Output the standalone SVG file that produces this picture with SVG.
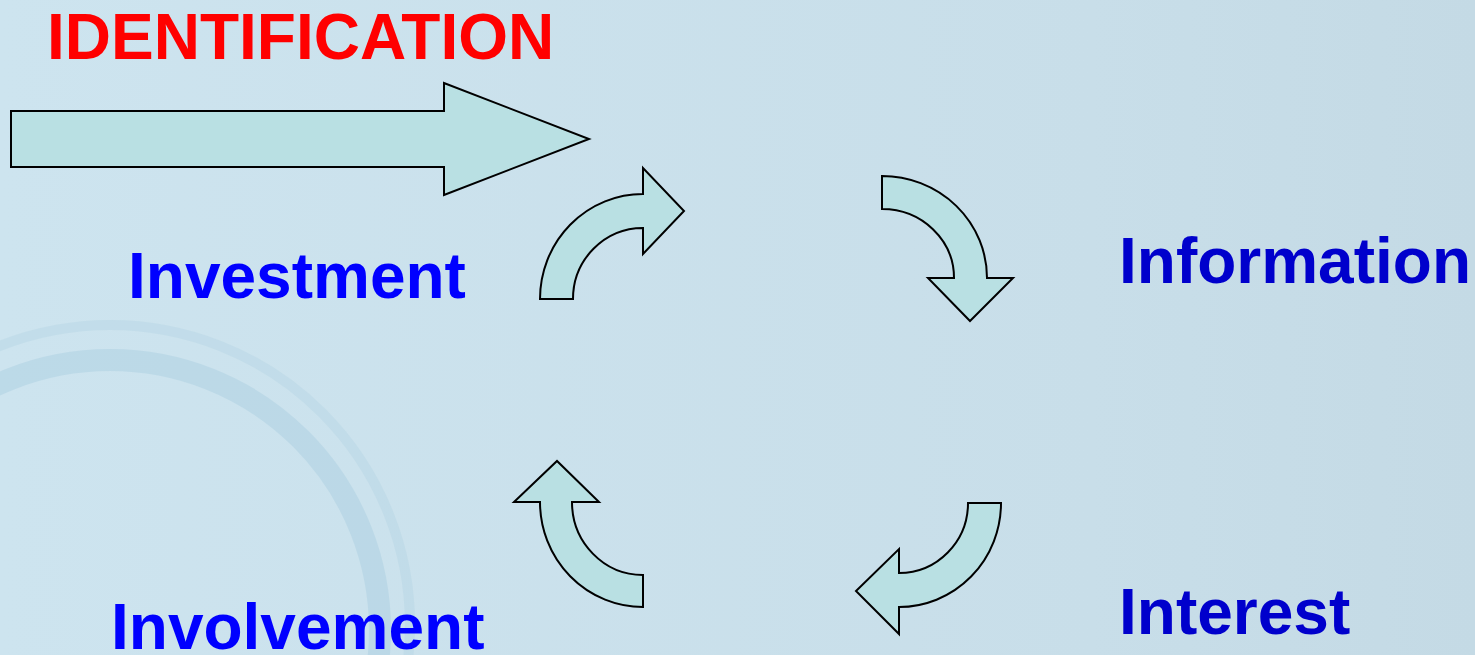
<svg xmlns="http://www.w3.org/2000/svg" width="1475" height="655" viewBox="0 0 1475 655">
  <defs>
    <linearGradient id="bg" x1="0" y1="0" x2="1" y2="0">
      <stop offset="0" stop-color="#cde4ef"/>
      <stop offset="0.74" stop-color="#c8dee9"/>
      <stop offset="1" stop-color="#c4dae5"/>
    </linearGradient>
  </defs>
  <style>
    .arrow { fill: #b9e0e3; stroke: #000; stroke-width: 2; stroke-linejoin: miter; }
    .lbl { font-family: "Liberation Sans", Arial, sans-serif; font-weight: bold; font-size: 64px; }
    .left { fill: #0000ff; }
    .right { fill: #0000cc; }
    .title { fill: #ff0000; }
    .wm { fill: none; stroke: #a8cde0; }
  </style>
  <rect x="0" y="0" width="1475" height="655" fill="url(#bg)"/>
  <g id="watermark" opacity="0.55">
    <circle class="wm" cx="110" cy="625" r="300" stroke-width="10" opacity="0.5"/>
    <circle class="wm" cx="110" cy="630" r="270" stroke-width="22" opacity="0.8"/>
  </g>
  <g id="connectors">
    <polygon id="identification-arrow" class="arrow" points="11,111 444,111 444,83 589,139 444,195 444,167 11,167"/>
    <path id="arrow-investment" class="arrow" d="M540,299 A103,105 0 0 1 643,194 L643,168 L684,211 L643,254 L643,228 A70,71 0 0 0 573,299 Z"/>
    <path id="arrow-information" class="arrow" d="M882,176 A105,102 0 0 1 987,278 L1013,278 L970,321 L928,278 L954,278 A72,69 0 0 0 882,209 Z"/>
    <path id="arrow-interest" class="arrow" d="M1001,503 A102,104 0 0 1 899,607 L899,634 L856,591 L899,549 L899,573 A69,70 0 0 0 968,503 Z"/>
    <path id="arrow-involvement" class="arrow" d="M643,607 A103,105 0 0 1 540,502 L514,502 L557,461 L599,502 L572,502 A71,73 0 0 0 643,575 Z"/>
  </g>
  <g id="node-identification">
    <text class="lbl title" x="47" y="59">IDENTIFICATION</text>
  </g>
  <g id="node-investment">
    <text class="lbl left" x="128" y="298" font-size="63">Investment</text>
  </g>
  <g id="node-information">
    <text class="lbl right" x="1119" y="283">Information</text>
  </g>
  <g id="node-interest">
    <text class="lbl right" x="1119" y="634">Interest</text>
  </g>
  <g id="node-involvement">
    <text class="lbl left" x="111" y="649">Involvement</text>
  </g>
</svg>
